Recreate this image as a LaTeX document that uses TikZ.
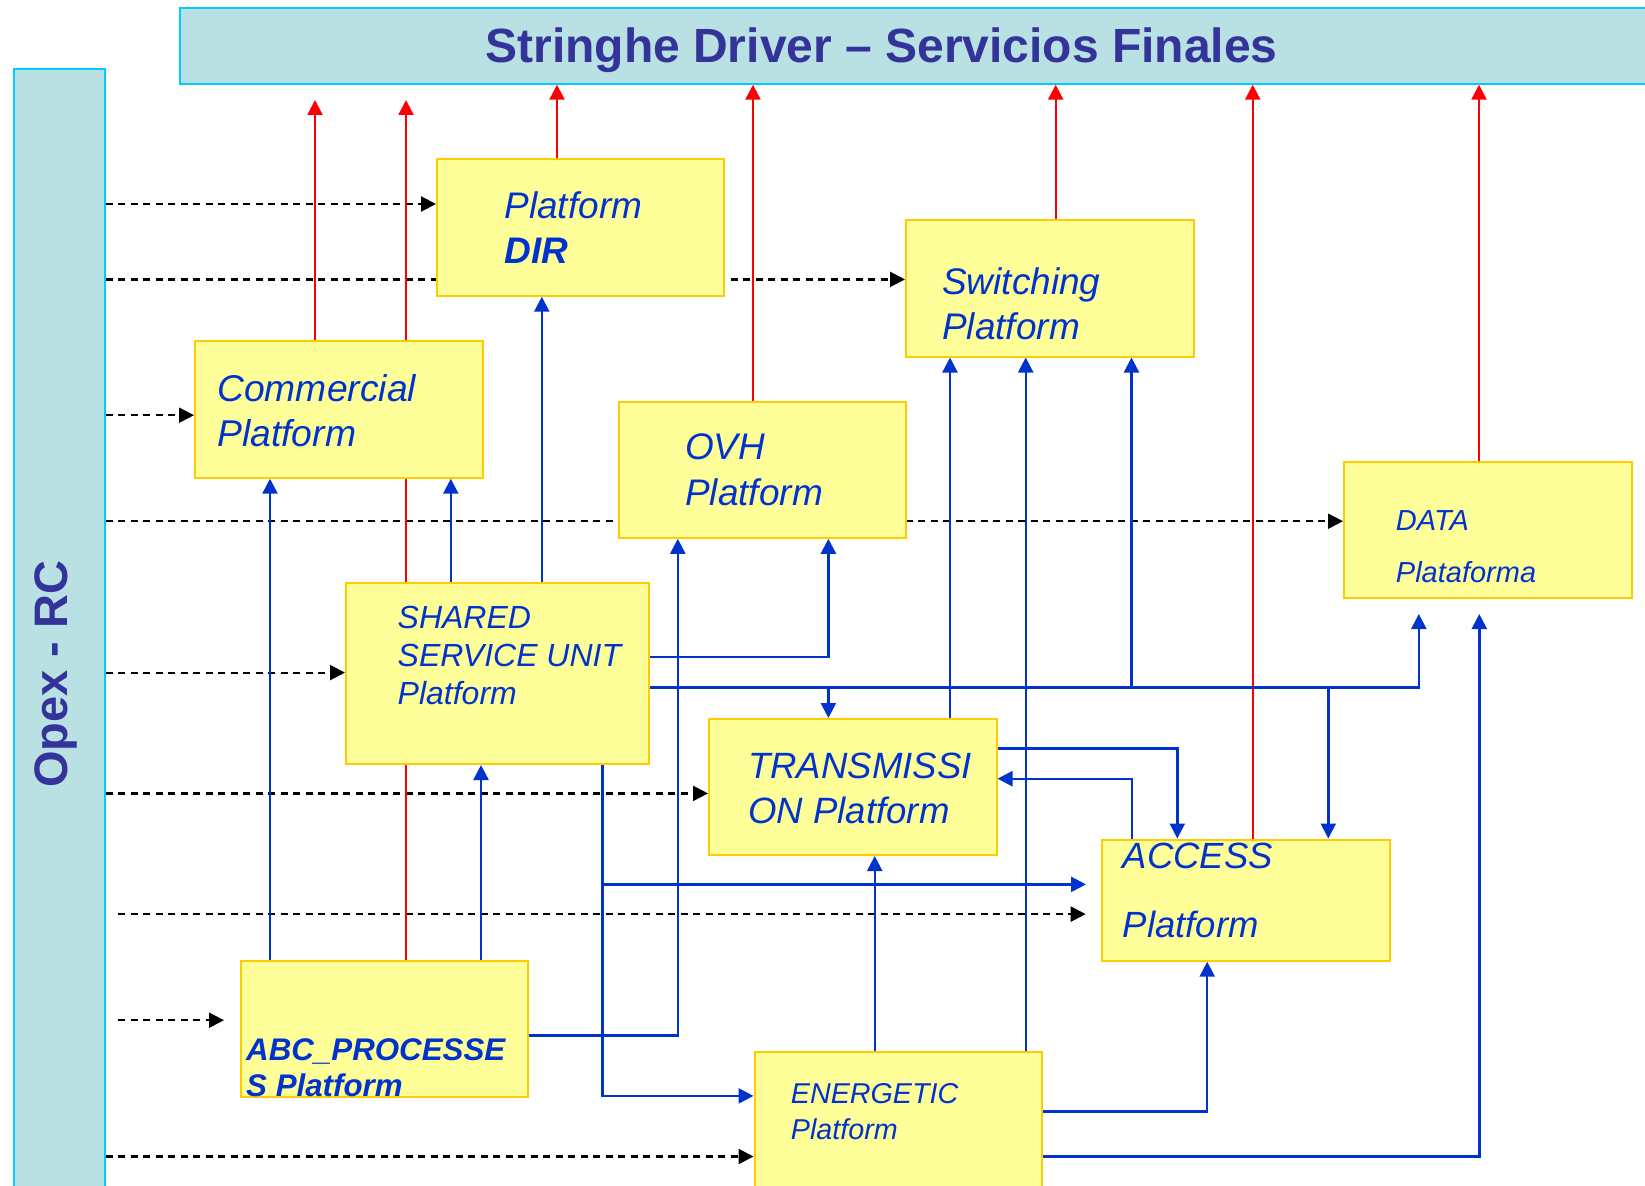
\documentclass[tikz,border=0pt]{standalone}
\usepackage{fontspec}
\setmainfont{Liberation Sans}
\usetikzlibrary{arrows.meta,backgrounds}
\definecolor{barfill}{RGB}{185,224,227}
\definecolor{barline}{RGB}{0,204,255}
\definecolor{boxfill}{RGB}{255,255,153}
\definecolor{boxline}{RGB}{255,204,0}
\definecolor{boxtext}{RGB}{0,51,204}
\definecolor{titletext}{RGB}{51,51,153}
\definecolor{redc}{RGB}{255,0,0}
\definecolor{bluec}{RGB}{0,51,204}
\begin{document}
\begin{tikzpicture}[x=1pt,y=-1pt,
  bar/.style={draw=barline,fill=barfill,line width=2pt,inner sep=0pt,anchor=north west},
  box/.style={draw=boxline,fill=boxfill,line width=2pt,inner sep=0pt,anchor=north west},
  lbl/.style={inner sep=0pt,anchor=base west,text=boxtext,align=left},
  redarrow/.style={draw=redc,line width=2.4pt,-{Triangle[length=15pt,width=15pt]}},
  bluearrow/.style={draw=bluec,line width=2.4pt,-{Triangle[length=15pt,width=15pt]}},
  dasharrow/.style={draw=black,line width=2.2pt,dash pattern=on 7pt off 5.5pt,-{Triangle[length=15pt,width=15pt]}}]
\useasboundingbox (0,0) rectangle (1645,1185);

% bars
\node[bar,minimum width=1468pt,minimum height=75.7pt] (title) at (179,7) {};
\node[bar,minimum width=91pt,minimum height=1127pt] (opex) at (12.6,68) {};
\node[inner sep=0pt,anchor=base,text=titletext,font=\fontsize{48}{56}\selectfont\bfseries] (titletxt) at (881.5,63) {Stringhe Driver – Servicios Finales};
\node[inner sep=0pt,anchor=base,rotate=90,text=titletext,font=\fontsize{47}{56}\selectfont\bfseries] (opextxt) at (67,674) {Opex - RC};

% boxes
\node[box,minimum width=287pt,minimum height=136.7pt] (dir) at (436,158) {};
\node[box,minimum width=287.7pt,minimum height=136.7pt] (com) at (194,340) {};
\node[box,minimum width=287pt,minimum height=135.8pt] (ovh) at (618,401) {};
\node[box,minimum width=287.5pt,minimum height=136.5pt] (sw) at (905,219) {};
\node[box,minimum width=288pt,minimum height=136pt] (data) at (1343,461) {};
\node[box,minimum width=302.5pt,minimum height=181pt] (ssu) at (345,582) {};
\node[box,minimum width=287.5pt,minimum height=136pt] (tr) at (708,718) {};
\node[box,minimum width=287.8pt,minimum height=121.2pt] (acc) at (1101,838.5) {};
\node[box,minimum width=287.2pt,minimum height=136pt] (abc) at (239.5,960) {};
\node[box,minimum width=287.5pt,minimum height=136pt] (en) at (753.5,1050.7) {};

% box texts (anchor = baseline of the last line)
\node[lbl,font=\fontsize{37}{44.4}\selectfont\itshape] (dirtxt) at (504.2,263.3) {Platform\\\textbf{DIR}};
\node[lbl,font=\fontsize{37.3}{45}\selectfont\itshape] (comtxt) at (217,446) {Commercial\\Platform};
\node[lbl,font=\fontsize{37}{46}\selectfont\itshape] (ovhtxt) at (685,505.2) {OVH\\Platform};
\node[lbl,font=\fontsize{37}{45}\selectfont\itshape] (swtxt) at (942,339.7) {Switching\\Platform};
\node[lbl,font=\fontsize{29}{52.7}\selectfont\itshape] (datatxt) at (1395.7,582.7) {DATA\\Plataforma};
\node[lbl,font=\fontsize{32}{38}\selectfont\itshape] (ssutxt) at (397.5,704.2) {SHARED\\SERVICE UNIT\\Platform};
\node[lbl,font=\fontsize{36.6}{44.4}\selectfont\itshape] (trtxt) at (748,823.1) {TRANSMISSI\\ON Platform};
\node[lbl,font=\fontsize{36.5}{68.7}\selectfont\itshape] (acctxt) at (1122.7,937) {ACCESS\\Platform};
\node[lbl,font=\fontsize{31.3}{36.7}\selectfont\bfseries\itshape] (abctxt) at (246,1096.7) {ABC\_PROCESSE\\S Platform};
\node[lbl,font=\fontsize{28.7}{36}\selectfont\itshape] (entxt) at (790.7,1139.3) {ENERGETIC\\Platform};

% free ends
\coordinate (redA) at (315,100);
\coordinate (redB) at (406,100);
\coordinate (dataInA) at (1418.8,614);
\coordinate (dataInB) at (1479.3,614);
\coordinate (accIn) at (1086,884.4);
\coordinate (dashAs) at (118,914.1);
\coordinate (dashAe) at (1085.7,914.1);
\coordinate (dashBs) at (118,1020.2);
\coordinate (dashBe) at (224,1020.2);

\begin{pgfonlayer}{background}
% dashed inputs
\draw[dasharrow] (opex.east |- 0,204) -- (dir.west |- 0,204);
\draw[dasharrow] (opex.east |- 0,279.4) -- (sw.west |- 0,279.4);
\draw[dasharrow] (opex.east |- 0,415.2) -- (com.west |- 0,415.2);
\draw[dasharrow] (opex.east |- 0,521.2) -- (data.west |- 0,521.2);
\draw[dasharrow] (opex.east |- 0,672.6) -- (ssu.west |- 0,672.6);
\draw[dasharrow] (opex.east |- 0,793.4) -- (tr.west |- 0,793.4);
\draw[dasharrow] (dashAs) -- (dashAe);
\draw[dasharrow] (dashBs) -- (dashBe);
\draw[dasharrow] (opex.east |- 0,1156.5) -- (en.west |- 0,1156.5);

% red outputs
\draw[redarrow] (com.north -| 315,0) -- (redA);
\draw[redarrow] (abc.north -| 406,0) -- (redB);
\draw[redarrow] (dir.north -| 557,0) -- (title.south -| 557,0);
\draw[redarrow] (ovh.north -| 753,0) -- (title.south -| 753,0);
\draw[redarrow] (sw.north -| 1055.7,0) -- (title.south -| 1055.7,0);
\draw[redarrow] (acc.north -| 1252.7,0) -- (title.south -| 1252.7,0);
\draw[redarrow] (data.north -| 1479,0) -- (title.south -| 1479,0);

% blue connections
\draw[bluearrow] (abc.north -| 270,0) -- (com.south -| 270,0);
\draw[bluearrow] (ssu.north -| 450.8,0) -- (com.south -| 450.8,0);
\draw[bluearrow] (ssu.north -| 541.8,0) -- (dir.south -| 541.8,0);
\draw[bluearrow] (abc.east |- 0,1035.3) -| (ovh.south -| 677.8,0);
\draw[bluearrow] (abc.north -| 481,0) -- (ssu.south -| 481,0);
\draw[bluearrow] (ssu.east |- 0,657.2) -| (ovh.south -| 828.4,0);
\draw[bluearrow] (ssu.east |- 0,687.3) -| (tr.north -| 828.4,0);
\draw[bluearrow] (ssu.east |- 0,687.3) -| (sw.south -| 1131.5,0);
\draw[bluearrow] (ssu.east |- 0,687.3) -| (acc.north -| 1328.3,0);
\draw[bluearrow] (ssu.east |- 0,687.3) -| (dataInA);
\draw[bluearrow] (tr.north -| 950,0) -- (sw.south -| 950,0);
\draw[bluearrow] (en.north -| 1025.7,0) -- (sw.south -| 1025.7,0);
\draw[bluearrow] (tr.east |- 0,748.3) -| (acc.north -| 1177.3,0);
\draw[bluearrow] (acc.north -| 1131.7,0) |- (tr.east |- 0,778.7);
\draw[bluearrow] (en.north -| 874.7,0) -- (tr.south -| 874.7,0);
\draw[bluearrow] (ssu.south -| 602.5,0) |- (en.west |- 0,1095.9);
\draw[bluearrow] (ssu.south -| 602.5,0) |- (accIn);
\draw[bluearrow] (en.east |- 0,1111.3) -| (acc.south -| 1207.2,0);
\draw[bluearrow] (en.east |- 0,1156.5) -| (dataInB);
\end{pgfonlayer}
\end{tikzpicture}
\end{document}
